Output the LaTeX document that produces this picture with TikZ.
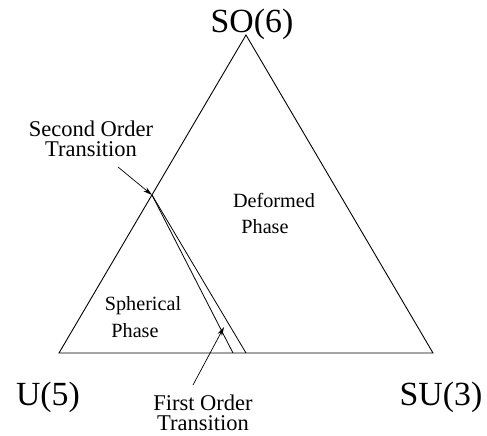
\documentclass[tikz,border=0pt]{standalone}
\usepackage{fontspec}
\setmainfont{Liberation Serif}
\usetikzlibrary{arrows.meta}

\begin{document}
\begin{tikzpicture}[x=1pt, y=-1pt, >={Stealth[length=9pt, width=5pt]},
  corner/.style={font=\fontsize{33.8}{33.8}\selectfont, anchor=base},
  note/.style={font=\fontsize{22.5}{20.5}\selectfont, align=center},
  phase/.style={font=\fontsize{20.2}{20.2}\selectfont, anchor=base}]

  % 边界
  \useasboundingbox (0,0) rectangle (487,436);

  % 1. 三角形顶点
  \coordinate (so6) at (246,35);
  \coordinate (u5)  at (59,353);
  \coordinate (su3) at (433,353);

  \draw[line width=0.9pt] (u5) -- (su3) -- (so6) -- cycle;

  % 2. 相变线 (从左边上的临界点到底边)
  \coordinate (crit)   at (152,195);
  \coordinate (foinn)  at (233,353);
  \coordinate (foout)  at (246,353);
  \draw[line width=0.8pt] (crit) -- (foinn);
  \draw[line width=0.8pt] (crit) -- (foout);

  % 3. 顶点标注
  \node[corner] (so6lab) at (252,33)  {SO(6)};
  \node[corner] (u5lab)  at (48,405)  {U(5)};
  \node[corner] (su3lab) at (441,405) {SU(3)};

  % 4. 相区标注
  \node[phase] (def)  at (274,207) {Deformed};
  \node[phase] (defp) at (265,233) {Phase};
  \node[phase] (sph)  at (143,310) {Spherical};
  \node[phase] (sphp) at (135,337) {Phase};

  % 5. 相变箭头
  \node[note] (second) at (91,139) {Second Order\\Transition};
  \coordinate (sotail) at (118,167);
  \draw[->, line width=0.7pt] (sotail) -- (crit);

  \node[note] (first) at (203,413) {First Order\\Transition};
  \coordinate (fotail) at (193,385);
  \coordinate (fotip)  at (224,327);
  \draw[->, line width=0.7pt] (fotail) -- (fotip);

\end{tikzpicture}
\end{document}
